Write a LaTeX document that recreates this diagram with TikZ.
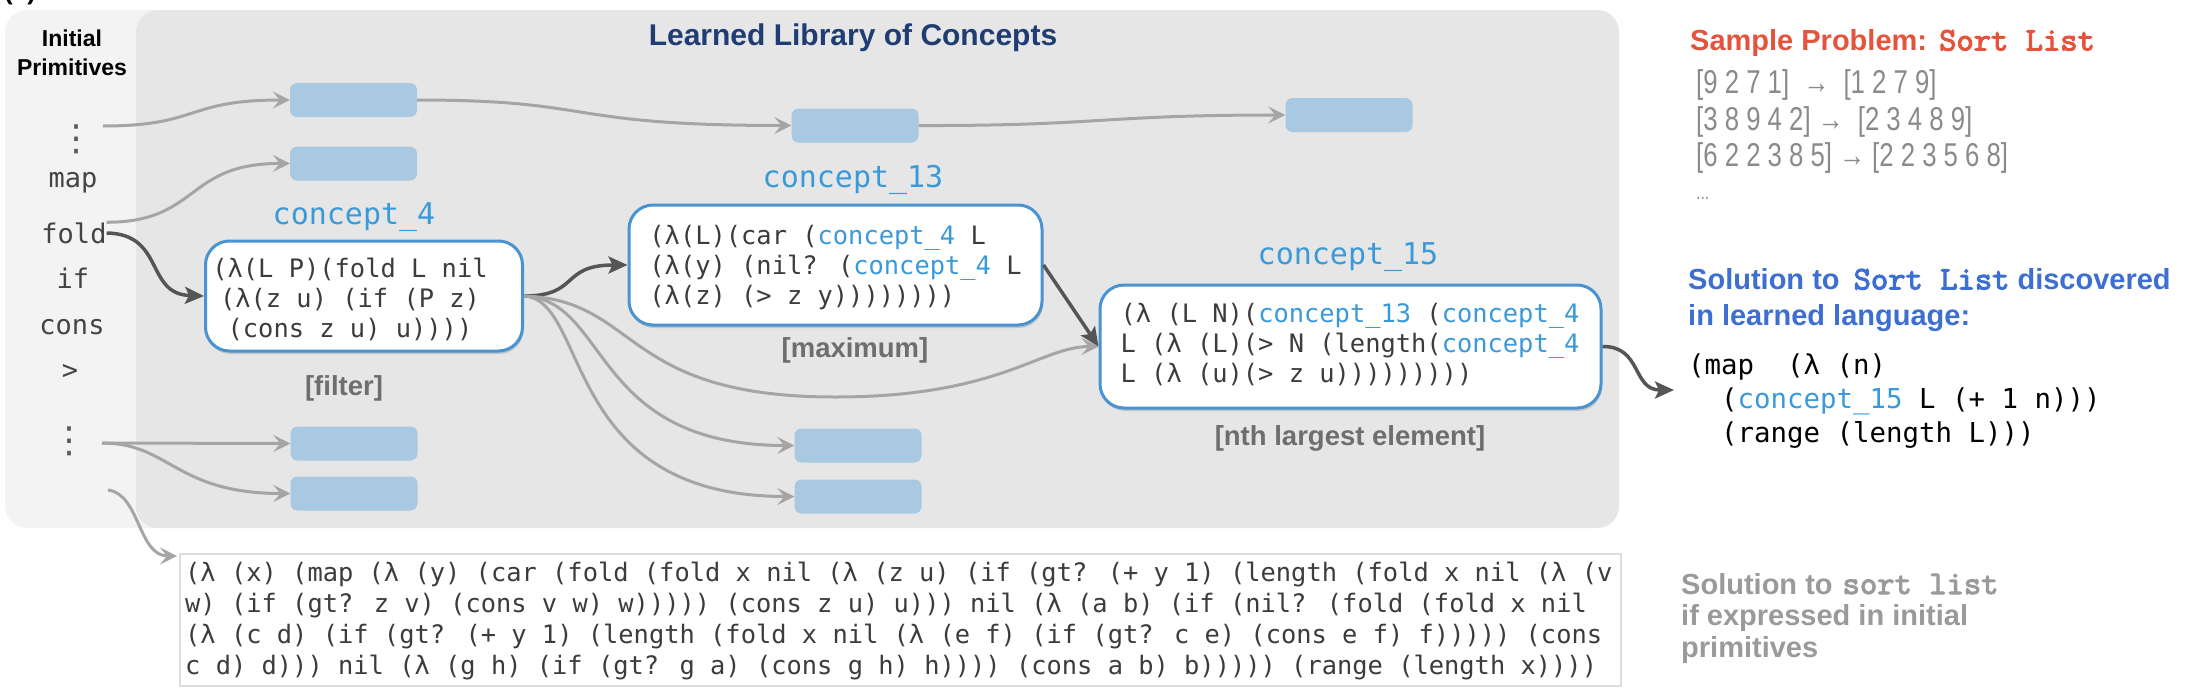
\documentclass[tikz,border=0pt]{standalone}
\usepackage{fontspec}
\setmainfont{Liberation Sans}
\newfontfamily\monof{DejaVu Sans Mono}
\newfontfamily\dejasans{DejaVu Sans}
\newfontfamily\courf[FakeBold=3]{lmmono10-regular.otf}
\newfontfamily\narrowf[FakeStretch=0.78]{Liberation Sans}
\usetikzlibrary{arrows.meta,shadows}
\definecolor{navy}{HTML}{1F3C73}
\definecolor{cblue}{HTML}{3A9AD9}
\definecolor{boxblue}{HTML}{4A93D2}
\definecolor{rectblue}{HTML}{A8C9E1}
\definecolor{panelgray}{HTML}{E6E6E6}
\definecolor{panellight}{HTML}{F3F3F3}
\definecolor{arrgray}{HTML}{A5A5A5}
\definecolor{arrdark}{HTML}{555555}
\definecolor{codegray}{HTML}{3C3C3C}
\definecolor{primgray}{HTML}{444444}
\definecolor{dotgray}{HTML}{5A5A5A}
\definecolor{labelgray}{HTML}{6E6E6E}
\definecolor{probred}{HTML}{E5533D}
\definecolor{solblue}{HTML}{3C6FD1}
\definecolor{exgray}{HTML}{8A8A8A}
\definecolor{solgray}{HTML}{9A9A9A}
\definecolor{codeborder}{HTML}{DDDDDD}
\newcommand\cpt[1]{\textcolor{cblue}{#1}}
\begin{document}
\begin{tikzpicture}[x=1pt,y=-1pt,
  every node/.style={inner sep=0pt},
  rectbox/.style={fill=rectblue, rounded corners=7pt, minimum width=127pt, minimum height=34pt},
  cbox/.style={draw=boxblue, line width=3pt, fill=white, rounded corners=24pt,
     drop shadow={shadow xshift=1pt, shadow yshift=-3pt, opacity=0.25, fill=black!60}},
  boxcode/.style={font=\monof\fontsize{25.4}{30}\selectfont, text=codegray},
  cname/.style={font=\monof\fontsize{30}{30}\selectfont, text=cblue},
  primtext/.style={font=\monof\fontsize{27}{27}\selectfont, text=primgray},
  dotstext/.style={font=\dejasans\fontsize{36}{36}\selectfont, text=dotgray},
  tagtext/.style={font=\bfseries\fontsize{27.5}{30}\selectfont, text=labelgray},
  extext/.style={font=\narrowf\fontsize{33}{33}\selectfont, text=exgray, anchor=west},
  garrow/.style={draw=arrgray, line width=3pt, -{Stealth[length=17pt,width=17pt,inset=7pt]}},
  darrow/.style={draw=arrdark, line width=3.5pt, -{Stealth[length=19pt,width=17pt,inset=4pt]}}
]
\useasboundingbox (0,0) rectangle (2188,694);

% partial figure tag at the very top
\node[anchor=base west, font=\bfseries\fontsize{26}{26}\selectfont] (tag) at (4,-1) {(a)};

% panels
\path[fill=panellight, rounded corners=22pt] (5,10) rectangle (1619,528);
\path[fill=panelgray, rounded corners=22pt] (136,10) rectangle (1619,528);

% headings
\node[font=\bfseries\fontsize{23}{29}\selectfont, align=center] (initprim) at (72,53) {Initial\\Primitives};
\node[font=\bfseries\fontsize{30}{30}\selectfont, text=navy] (libtitle) at (853,38) {Learned Library of Concepts};

% primitives column
\node[dotstext] (dtop) at (76,139) {⋮};
\node[primtext] (map) at (73,183) {map};
\node[primtext] (fold) at (74,233) {fold};
\node[primtext] (if) at (73,278) {if};
\node[primtext] (cons) at (72,327) {cons};
\node[primtext] (gt) at (70,372) {>};
\node[dotstext] (dbot) at (69,441) {⋮};
\coordinate (s1) at (103,126);
\coordinate (s2) at (102,443);
\coordinate (s3) at (108,490);

% unnamed concept rectangles
\node[rectbox] (r1) at (353.5,100) {};
\node[rectbox] (r2) at (353.5,163.5) {};
\node[rectbox] (r3) at (855,125.5) {};
\node[rectbox] (r4) at (1349,115) {};
\node[rectbox] (r5) at (354,443.5) {};
\node[rectbox] (r6) at (354,493.5) {};
\node[rectbox] (r7) at (858,445.5) {};
\node[rectbox] (r8) at (858,496.5) {};

% concept_4
\node[cname] (c4name) at (354,217) {concept\_4};
\node[cbox, minimum width=317pt, minimum height=110pt] (c4box) at (364,296) {};
\node[boxcode, align=center] (c4text) at (350,299) {(λ(L P)(fold L nil\\(λ(z u) (if (P z)\\(cons z u) u))))};
\node[tagtext] (c4tag) at (344,388) {[filter]};

% concept_13
\node[cname] (c13name) at (853,180) {concept\_13};
\node[cbox, minimum width=413pt, minimum height=120pt] (c13box) at (835.5,265) {};
\node[boxcode, align=left] (c13text) at (835.5,267) {(λ(L)(car (\cpt{concept\_4} L\\(λ(y) (nil? (\cpt{concept\_4} L\\(λ(z) (> z y))))))))};
\node[tagtext] (c13tag) at (855,350) {[maximum]};

% concept_15
\node[cname] (c15name) at (1348,257) {concept\_15};
\node[cbox, minimum width=501pt, minimum height=123pt] (c15box) at (1350.5,346.5) {};
\node[boxcode, align=left] (c15text) at (1350,345) {(λ (L N)(\cpt{concept\_13} (\cpt{concept\_4}\\L (λ (L)(> N (length(\cpt{concept\_4}\\L (λ (u)(> z u)))))))))};
\node[tagtext] (c15tag) at (1350,438) {[nth largest element]};

% connectors: primitives to concepts
\draw[garrow] (s1) .. controls (200,126) and (185,100) .. (r1.west);
\draw[garrow] (fold.north east) .. controls (200,222) and (185,163) .. (r2.west);
\draw[darrow] (fold.east) .. controls (165,234) and (145,294) .. (c4box.west);
\draw[garrow] (s2) -- (r5.west);
\draw[garrow] (s2) .. controls (170,443) and (175,493.5) .. (r6.west);
\coordinate (cbcorner) at (177,556);
\draw[garrow] (s3) .. controls (140,494) and (138,556) .. (cbcorner);

% connectors among concepts
\draw[garrow] (r1.east) .. controls (600,100) and (560,125.5) .. (r3.west);
\draw[garrow] (r3.east) .. controls (1100,126) and (1100,115) .. (r4.west);
\draw[darrow] (c4box.east) .. controls (580,296) and (560,265) .. (c13box.west);
\draw[garrow] (c4box.east) .. controls (640,300) and (620,397) .. (835,397) .. controls (1000,397) and (1040,346.5) .. (c15box.west);
\draw[garrow] (c4box.east) .. controls (610,300) and (590,445.5) .. (r7.west);
\draw[garrow] (c4box.east) .. controls (590,300) and (560,496.5) .. (r8.west);
\draw[darrow] (c13box.east) -- (c15box.west);
\coordinate (solin) at (1674,390);
\draw[darrow] (c15box.east) .. controls (1642,346) and (1632,390) .. (solin);

% right column: sample problem
\node[anchor=west, font=\bfseries\fontsize{29}{36}\selectfont, text=probred] (sp) at (1690,43) {Sample Problem:\hspace{12pt}{\courf\fontsize{33}{33}\selectfont Sort List}};
\node[extext] (ex1) at (1696,85) {[9 2 7 1]~~→~~[1 2 7 9]};
\node[extext] (ex2) at (1696,122) {[3 8 9 4 2]~→~~[2 3 4 8 9]};
\node[extext] (ex3) at (1696,158) {[6 2 2 3 8 5]~→~[2 2 3 5 6 8]};
\node[extext, font=\narrowf\fontsize{20}{20}\selectfont] (ex4) at (1696,198) {...};

% learned solution
\node[anchor=west, align=left, font=\bfseries\fontsize{29}{36}\selectfont, text=solblue] (solhead) at (1688,300) {Solution to\hspace{14pt}{\courf\fontsize{33}{36}\selectfont Sort List}\hspace{8pt}discovered\\in learned language:};
\node[anchor=west, align=left, font=\monof\fontsize{27.4}{34}\selectfont, text=black] (solcode) at (1688,401) {(map~~(λ (n)\\\phantom{xx}(\cpt{concept\_15} L (+ 1 n)))\\\phantom{xx}(range (length L)))};

% primitive solution
\node[draw=codeborder, line width=1.5pt, fill=white, minimum width=1441pt, minimum height=132pt, anchor=north west] (codebox) at (179,553) {};
\node[anchor=west, align=left, font=\monof\fontsize{25.4}{30.7}\selectfont, text=codegray] (codetext) at (185,621) {(λ (x) (map (λ (y) (car (fold (fold x nil (λ (z u) (if (gt? (+ y 1) (length (fold x nil (λ (v\\w) (if (gt? z v) (cons v w) w))))) (cons z u) u))) nil (λ (a b) (if (nil? (fold (fold x nil\\(λ (c d) (if (gt? (+ y 1) (length (fold x nil (λ (e f) (if (gt? c e) (cons e f) f))))) (cons\\c d) d))) nil (λ (g h) (if (gt? g a) (cons g h) h)))) (cons a b) b))))) (range (length x))))};
\node[anchor=west, align=left, font=\bfseries\fontsize{29}{31.5}\selectfont, text=solgray] (solprim) at (1681,618) {Solution to\hspace{10pt}{\courf\fontsize{33}{31.5}\selectfont sort list}\\if expressed in initial\\primitives};
\end{tikzpicture}
\end{document}
